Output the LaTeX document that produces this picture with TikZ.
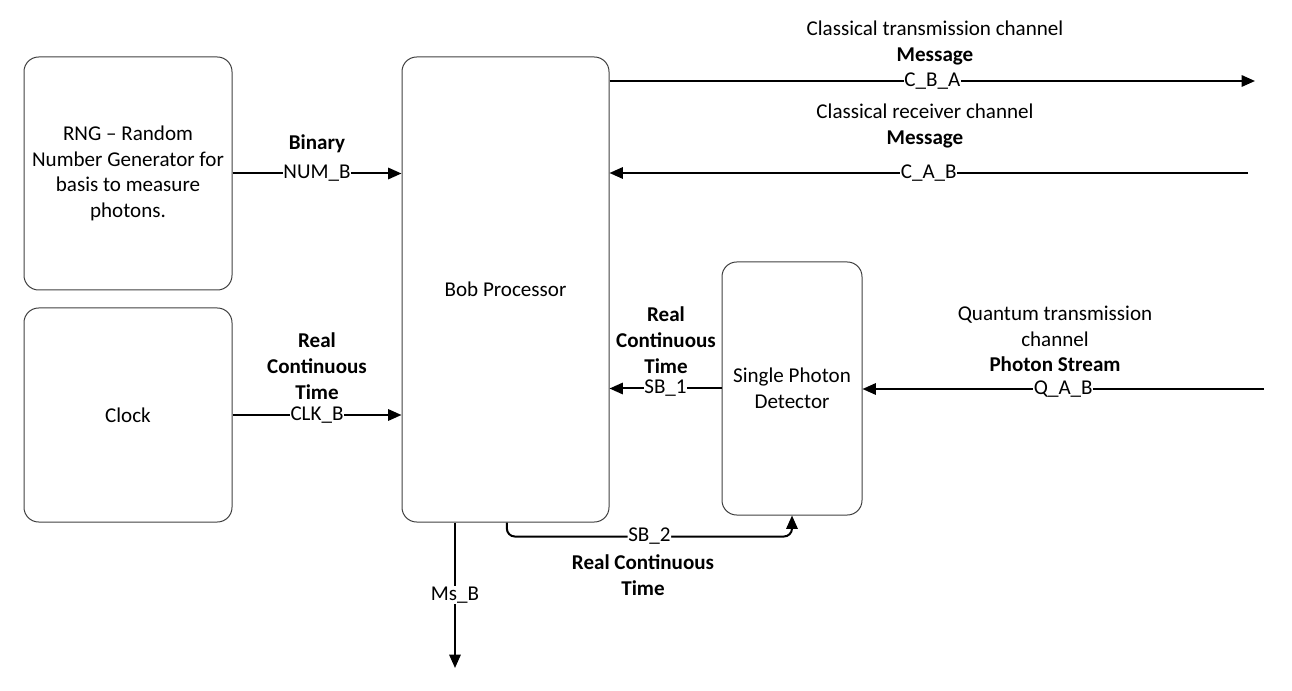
\documentclass[tikz,border=0pt]{standalone}
\usepackage{fontspec}
\setmainfont{Carlito}
\usetikzlibrary{arrows.meta,positioning}

\begin{document}
\begin{tikzpicture}[x=0.75pt, y=-0.75pt,
    font=\fontsize{15.8}{19.3}\selectfont,
    blok/.style={rectangle, rounded corners=11pt, draw=black!75, line width=0.75pt, align=center, inner sep=0pt},
    sig/.style={draw=black, line width=1.5pt, -{Triangle[length=10pt,width=8.5pt]}},
    %plain line segments of a signal, no tip
    lbl/.style={fill=white, inner sep=0.5pt},
    head/.style={align=center, inner sep=0pt},
    ]

\useasboundingbox (0,0) rectangle (1292,691);

% blocks
\node[blok, minimum width=156pt, minimum height=174.75pt] (rng) at (128,173.5)
    {RNG -- Random\\Number Generator for\\basis to measure\\photons.};
\node[blok, minimum width=156pt, minimum height=160.5pt] (clock) at (128,415) {Clock};
\node[blok, minimum width=155.25pt, minimum height=348.75pt] (bob) at (505.5,289.5) {Bob Processor};
\node[blok, minimum width=105pt, minimum height=189.75pt] (det) at (792,388.5) {Single Photon\\Detector};

% free ends
\coordinate (cba-end) at (1255,81);
\coordinate (cab-start) at (1248,173);
\coordinate (qab-start) at (1264,389);
\coordinate (msb-end) at (455,668);

% signals
\draw[sig] (rng.east) -- node[lbl] {NUM\_B} (bob.west |- rng.east);
\draw[sig] (clock.east) -- node[lbl] {CLK\_B} (bob.west |- clock.east);
\draw[sig] (bob.east |- cba-end) -- node[lbl] {C\_B\_A} (cba-end);
\draw[sig] (cab-start) -- node[lbl] {C\_A\_B} (bob.east |- cab-start);
\draw[sig] (det.west) -- node[lbl] {SB\_1} (bob.east |- det.west);
\draw[sig] (qab-start) -- node[lbl] {Q\_A\_B} (det.east |- qab-start);
\draw[sig] (bob.south -| msb-end) -- node[lbl] {Ms\_B} (msb-end);
\draw[sig, rounded corners=6pt] ([xshift=1pt]bob.south) -- ++(0,14)
    -| node[lbl, pos=0.25] {SB\_2} (det.south);

% headings of the signals
\node[head] (binary) at (317,144) {\textbf{Binary}};
\node[head] (clk-head) at (317,366) {\textbf{Real}\\\textbf{Continuous}\\\textbf{Time}};
\node[head] (sb1-head) at (666,340) {\textbf{Real}\\\textbf{Continuous}\\\textbf{Time}};
\node[head] (cba-head) at (935,43) {Classical transmission channel\\\textbf{Message}};
\node[head] (cab-head) at (925,126) {Classical receiver channel\\\textbf{Message}};
\node[head] (qab-head) at (1055,339) {Quantum transmission\\channel\\\textbf{Photon Stream}};
\node[head] (sb2-head) at (643,575) {\textbf{Real Continuous}\\\textbf{Time}};

\end{tikzpicture}
\end{document}
